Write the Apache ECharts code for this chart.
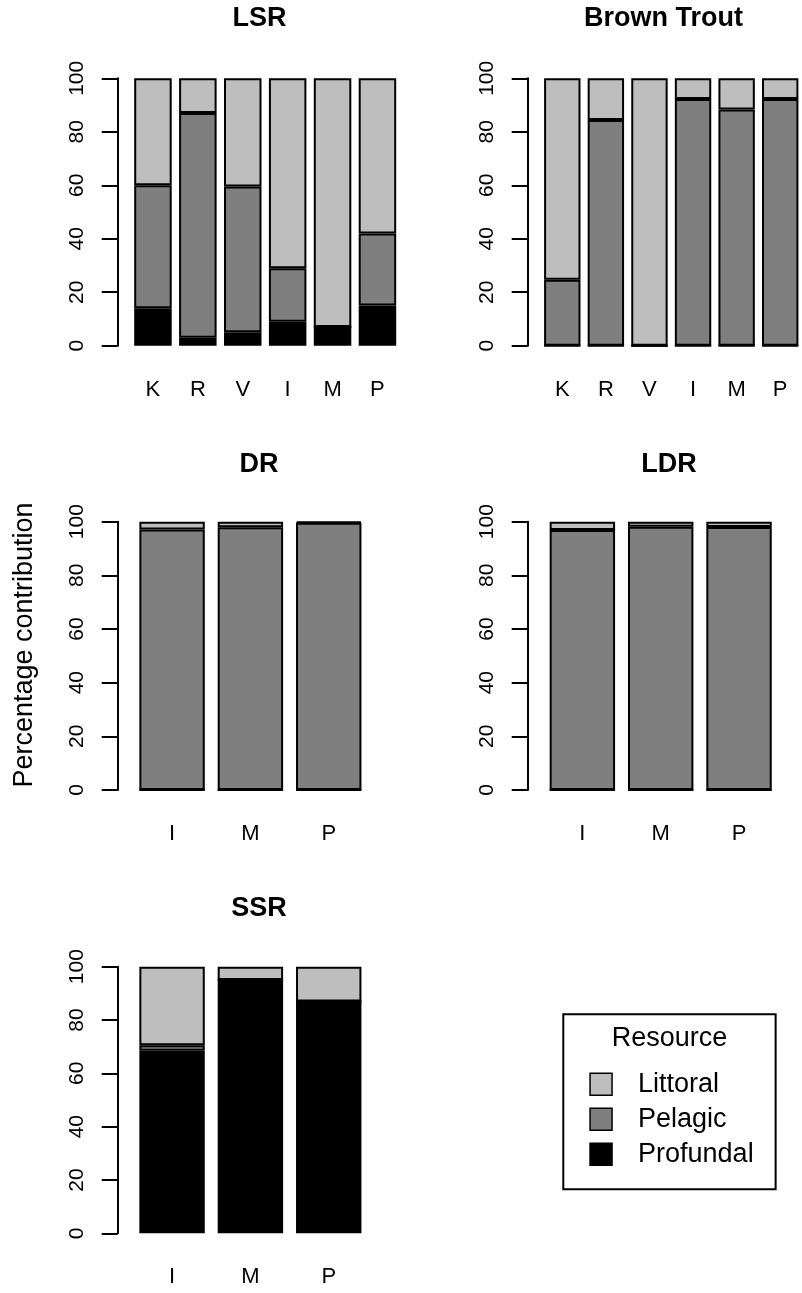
<!DOCTYPE html>
<html>
<head>
<meta charset="utf-8">
<script src="https://cdn.jsdelivr.net/npm/echarts@6/dist/echarts.min.js"></script>
<style>
html,body{margin:0;padding:0;background:#fff;}
#chart{width:802px;height:1293px;}
</style>
</head>
<body>
<div id="chart"></div>
<script>
// ---- Data ----
const resourceNames = ['Littoral', 'Pelagic', 'Profundal'];
const yTicks = [0, 20, 40, 60, 80, 100];

const lsrCats = ['K', 'R', 'V', 'I', 'M', 'P'];
const lsrProfundal = [14, 3, 5, 9, 7, 15];
const lsrPelagic = [46, 84, 54.5, 20, 0, 27];
const lsrLittoral = [40, 13, 40.5, 71, 93, 58];

const btCats = ['K', 'R', 'V', 'I', 'M', 'P'];
const btProfundal = [0, 0, 0, 0, 0, 0];
const btPelagic = [24.7, 84.4, 0, 92.3, 88.3, 92.3];
const btLittoral = [75.3, 15.6, 100, 7.7, 11.7, 7.7];

const drCats = ['I', 'M', 'P'];
const drProfundal = [0, 0, 0];
const drPelagic = [97.1, 97.9, 99.6];
const drLittoral = [2.9, 2.1, 0.4];

const ldrCats = ['I', 'M', 'P'];
const ldrProfundal = [0, 0, 0];
const ldrPelagic = [96.9, 98.1, 98.0];
const ldrLittoral = [3.1, 1.9, 2.0];

const ssrCats = ['I', 'M', 'P'];
const ssrProfundal = [68.5, 95, 86.9];
const ssrPelagic = [2, 0, 0];
const ssrLittoral = [29.5, 5, 13.1];

// ---- Layout / style ----
const FONT = '"Liberation Sans", Arial, Helvetica, sans-serif';
const colors = { Littoral: '#bebebe', Pelagic: '#7f7f7f', Profundal: '#000000' };

const panels = [
  { title: 'LSR', cats: lsrCats, prof: lsrProfundal, pel: lsrPelagic, lit: lsrLittoral,
    grid: { left: 130.5, top: 78.3, width: 269.4, height: 267.4 }, off: 12.8, tx: 259.5, ty: 5 },
  { title: 'Brown Trout', cats: btCats, prof: btProfundal, pel: btPelagic, lit: btLittoral,
    grid: { left: 540.5, top: 78.3, width: 270, height: 267.4 }, off: 12.8, tx: 663.5, ty: 5 },
  { title: 'DR', cats: drCats, prof: drProfundal, pel: drPelagic, lit: drLittoral,
    grid: { left: 132.9, top: 521.7, width: 235, height: 268.3 }, off: 15.2, tx: 259, ty: 451 },
  { title: 'LDR', cats: ldrCats, prof: ldrProfundal, pel: ldrPelagic, lit: ldrLittoral,
    grid: { left: 543.2, top: 521.7, width: 235, height: 268.3 }, off: 15.5, tx: 669, ty: 451 },
  { title: 'SSR', cats: ssrCats, prof: ssrProfundal, pel: ssrPelagic, lit: ssrLittoral,
    grid: { left: 132.9, top: 966.7, width: 235, height: 266.6 }, off: 15.2, tx: 259, ty: 895 }
];

const grids = [], xAxes = [], yAxes = [], series = [], titles = [];
panels.forEach((p, i) => {
  grids.push(Object.assign({ containLabel: false }, p.grid));
  xAxes.push({
    type: 'category', gridIndex: i, data: p.cats,
    axisLine: { show: false }, axisTick: { show: false },
    axisLabel: { color: '#000', fontFamily: FONT, fontSize: 22, margin: 33 },
    splitLine: { show: false }
  });
  yAxes.push({
    type: 'value', gridIndex: i, min: yTicks[0], max: yTicks[yTicks.length - 1],
    interval: yTicks[1] - yTicks[0], offset: p.off,
    axisLine: { show: true, lineStyle: { color: '#000', width: 2 } },
    axisTick: { show: true, length: 16, lineStyle: { color: '#000', width: 2 } },
    axisLabel: { color: '#000', fontFamily: FONT, fontSize: 21, rotate: 90, margin: 30 },
    splitLine: { show: false }
  });
  const stackId = 'st' + i;
  [['Profundal', p.prof], ['Pelagic', p.pel], ['Littoral', p.lit]].forEach(([name, vals]) => {
    series.push({
      type: 'bar', name: name, xAxisIndex: i, yAxisIndex: i, stack: stackId,
      data: vals, barWidth: '83.5%',
      itemStyle: { color: colors[name], borderColor: '#000', borderWidth: 2 },
      emphasis: { disabled: true }, animation: false
    });
  });
  titles.push({
    text: p.title, left: p.tx, top: p.ty, textAlign: 'center', padding: 0,
    textStyle: { fontFamily: FONT, fontSize: 27, fontWeight: 'bold', color: '#000' }
  });
});

titles.push({
  text: 'Resource', left: 669.5, top: 1025, textAlign: 'center', padding: 0,
  textStyle: { fontFamily: FONT, fontSize: 27, fontWeight: 'normal', color: '#000' }
});

const option = {
  backgroundColor: '#ffffff',
  animation: false,
  title: titles,
  grid: grids,
  xAxis: xAxes,
  yAxis: yAxes,
  series: series,
  legend: {
    data: resourceNames,
    orient: 'vertical',
    left: 563.3, top: 1014.3,
    padding: [55, 22, 20, 26],
    borderColor: '#000', borderWidth: 2,
    itemWidth: 22, itemHeight: 22, itemGap: 5,
    icon: 'rect', selectedMode: false,
    itemStyle: { borderColor: '#000', borderWidth: 1.5 },
    textStyle: { fontFamily: FONT, fontSize: 27, color: '#000', lineHeight: 30, padding: [0, 0, 0, 21] }
  },
  graphic: [{
    type: 'text', x: 25, y: 645, rotation: Math.PI / 2,
    style: { text: 'Percentage contribution', fontFamily: FONT, fontSize: 27, fill: '#000',
             textAlign: 'center', textVerticalAlign: 'middle' }
  }]
};

const chart = echarts.init(document.getElementById('chart'), null, { renderer: 'canvas' });
chart.setOption(option);
</script>
</body>
</html>
